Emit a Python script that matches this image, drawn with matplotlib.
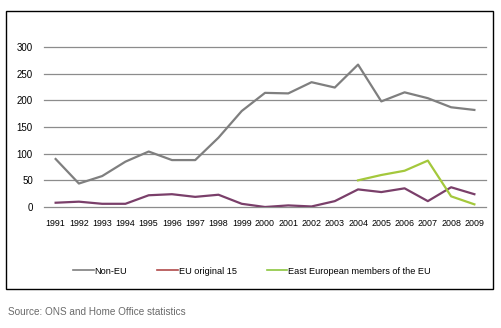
import matplotlib
matplotlib.use("Agg")
import matplotlib.pyplot as plt
from matplotlib.patches import Rectangle

years = list(range(1991, 2010))
non_eu = [90, 44, 58, 85, 104, 88, 88, 130, 180, 214, 213, 234, 224, 267, 198, 215, 204, 187, 182]
eu_original_15 = [8, 10, 6, 6, 22, 24, 19, 23, 6, 0, 3, 1, 11, 33, 28, 35, 11, 37, 24]
east_years = [2004, 2005, 2006, 2007, 2008, 2009]
east_eu = [50, 60, 68, 87, 20, 5]
y_ticks = [0, 50, 100, 150, 200, 250, 300]

plt.rcParams['font.family'] = ['Liberation Sans', 'DejaVu Sans']

figure = plt.figure(figsize=(5.02, 3.28), dpi=100)
axis = figure.add_axes([44 / 502, 1 - 207 / 328, 442 / 502, 160 / 328])

axis.plot(years, non_eu, color="#7f7f7f", linewidth=1.6, label="Non-EU")
axis.plot(years, eu_original_15, color="#7a3f6a", linewidth=1.6, label="EU original 15")
axis.plot(east_years, east_eu, color="#a4c83c", linewidth=1.6, label="East European members of the EU")

axis.set_xlim(1990.5, 2009.5)
axis.set_ylim(0, 300)
axis.set_xticks(years)
axis.set_xticklabels([str(y) for y in years])
axis.set_yticks(y_ticks)
axis.grid(axis="y", color="#8c8c8c", linewidth=0.9, clip_on=False)
axis.set_axisbelow(True)
for spine in axis.spines.values():
    spine.set_visible(False)
axis.tick_params(axis="x", length=0, labelsize=6.4, colors="black", pad=9)
axis.tick_params(axis="y", length=0, labelsize=7, colors="black", pad=8)

legend_handles = [
    plt.Line2D([], [], color="#7f7f7f", linewidth=1.2),
    plt.Line2D([], [], color="#b04a4a", linewidth=1.2),
    plt.Line2D([], [], color="#8cc63f", linewidth=1.2),
]
figure.legend(
    legend_handles,
    ["Non-EU", "EU original 15", "East European members of the EU"],
    loc="center",
    bbox_to_anchor=(252 / 502, 1 - 271 / 328),
    ncol=3,
    frameon=False,
    fontsize=6.6,
    handlelength=2.2,
    handletextpad=0.1,
    columnspacing=3.3,
)

figure.patches.append(Rectangle(
    (6 / 502, 1 - 289 / 328), 487 / 502, 278 / 328,
    transform=figure.transFigure, fill=False, edgecolor="black", linewidth=1.0
))

figure.text(8 / 502, 1 - 312 / 328, "Source: ONS and Home Office statistics",
            fontsize=7.2, color="#6a6a6a", va="center", ha="left")

figure.savefig("out.png", dpi=100)
